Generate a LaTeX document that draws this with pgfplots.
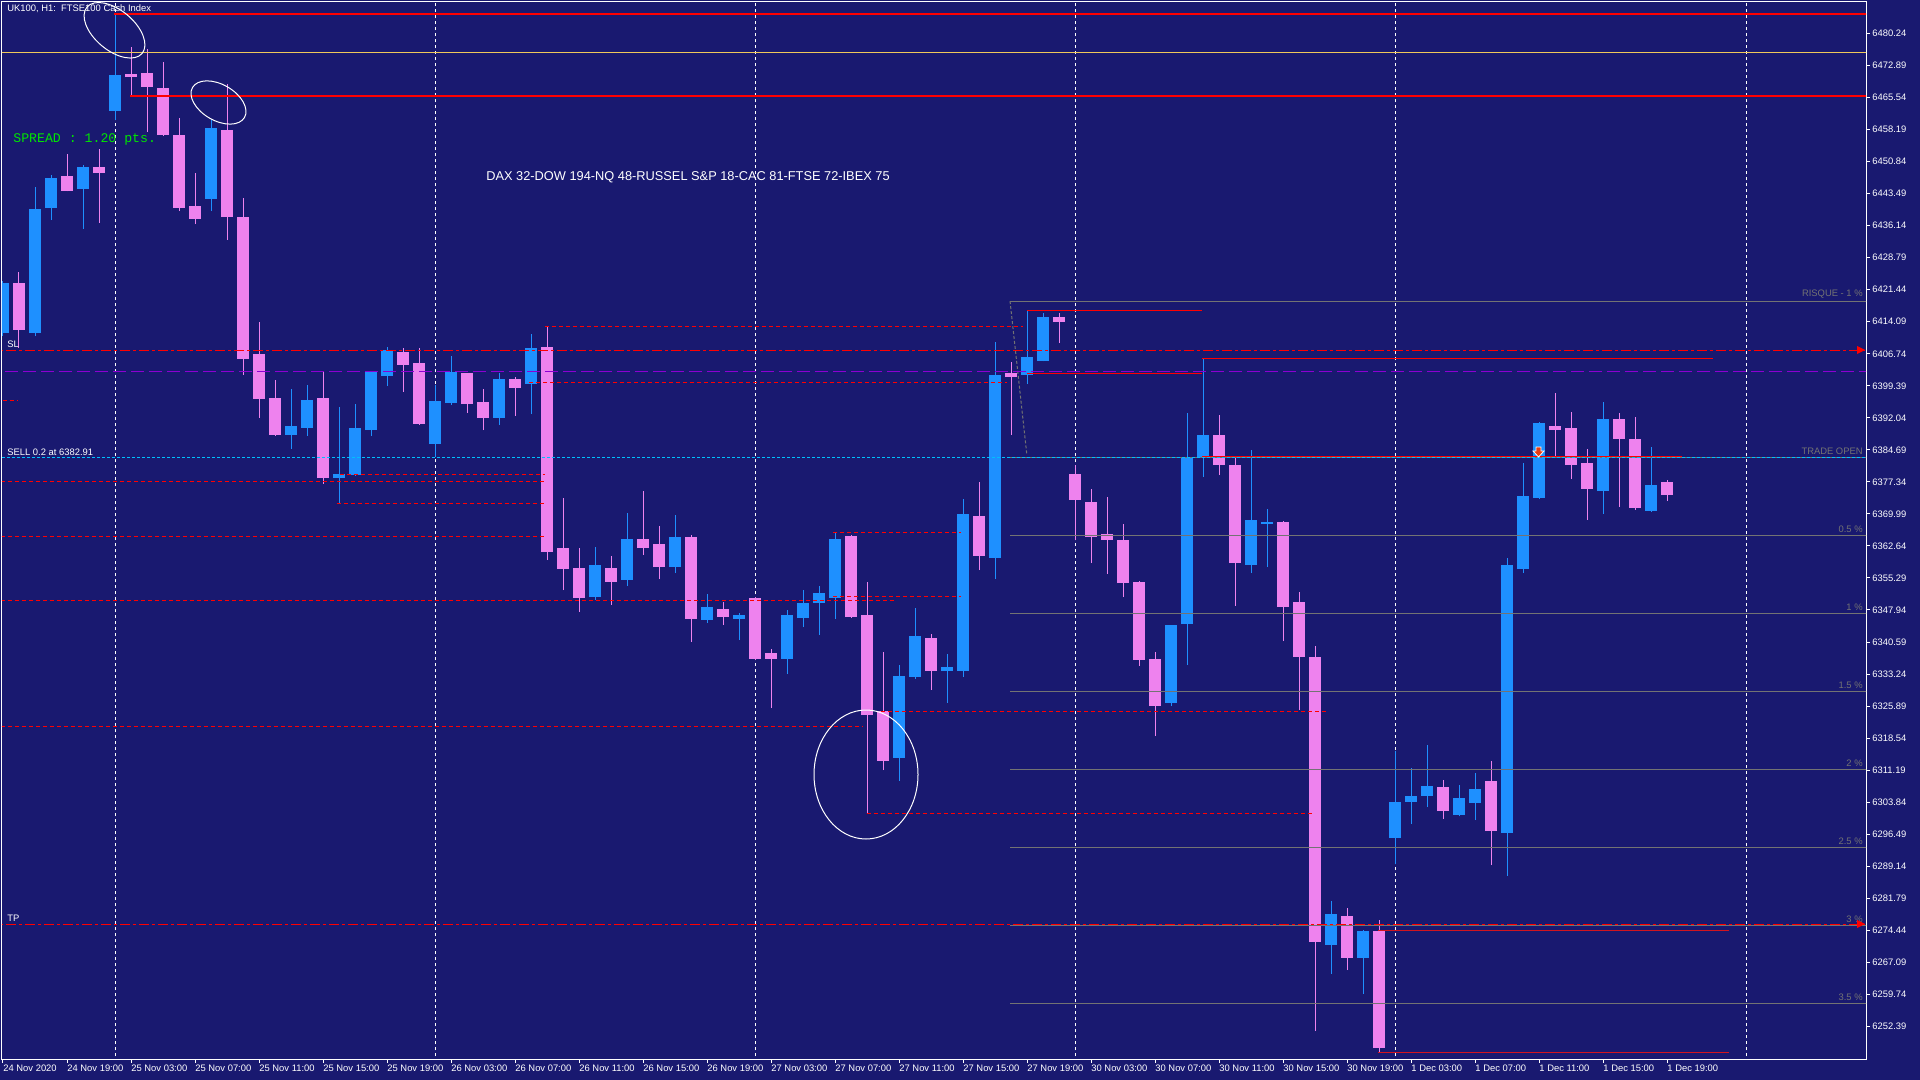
\documentclass[border=0pt]{standalone}
\usepackage{pgfplots}
\pgfplotsset{compat=1.18}
\usepackage{pgfplotstable}
\usepackage{fontspec}
\setmainfont{Liberation Sans}
\newfontfamily\monof{Liberation Mono}
\definecolor{bg}{RGB}{25,25,112}
\definecolor{bull}{RGB}{30,144,255}
\definecolor{bear}{RGB}{238,130,238}
\definecolor{lred}{RGB}{255,0,0}
\definecolor{dred}{RGB}{210,20,30}
\definecolor{purp}{RGB}{140,0,210}
\definecolor{cyanl}{RGB}{0,191,255}
\definecolor{grayl}{RGB}{115,115,115}
\definecolor{khak}{RGB}{240,200,90}
\definecolor{sprg}{RGB}{0,230,0}
\newcommand\mtf{\fontsize{4.7}{5.5}\selectfont}
\newcommand\daxf{\fontsize{6.4}{7.5}\selectfont}

\pgfplotstableread{
x o h l c
0 6411.5 6423.4 6410.8 6423.0
2 6411.5 6445.0 6410.8 6440.0
3 6440.3 6447.8 6437.4 6447.1
5 6444.6 6450.1 6435.4 6449.6
7 6462.5 6484.7 6460.4 6470.7
13 6442.3 6460.6 6439.5 6458.6
18 6388.1 6398.7 6384.9 6390.2
19 6389.7 6399.6 6387.9 6396.1
21 6378.2 6394.5 6372.5 6379.2
22 6378.9 6395.2 6378.8 6389.7
23 6389.2 6402.7 6387.9 6402.6
24 6401.6 6408.3 6399.3 6407.6
27 6386.0 6399.6 6383.1 6395.9
28 6395.4 6406.2 6395.0 6402.6
31 6392.0 6402.3 6390.4 6400.9
33 6399.8 6411.3 6392.9 6408.1
37 6350.9 6362.4 6350.2 6358.3
39 6354.8 6370.2 6353.4 6364.2
42 6357.8 6369.7 6356.4 6364.7
44 6345.6 6351.6 6344.9 6348.6
46 6345.9 6347.2 6341.1 6346.8
49 6336.7 6347.9 6333.2 6346.8
50 6346.1 6352.5 6344.0 6349.5
51 6349.5 6353.4 6342.2 6351.8
52 6350.7 6365.6 6345.9 6364.2
56 6314.0 6335.3 6308.7 6332.8
57 6332.6 6348.4 6332.1 6342.0
59 6333.9 6337.8 6326.6 6334.9
60 6333.9 6373.4 6332.6 6370.0
62 6359.9 6409.4 6355.0 6401.9
64 6401.9 6416.8 6399.8 6406.0
65 6405.1 6416.1 6405.0 6415.2
73 6326.6 6344.6 6325.9 6344.5
74 6344.7 6393.2 6335.3 6383.1
75 6383.1 6405.5 6378.5 6388.1
78 6358.3 6384.7 6356.4 6368.6
79 6367.7 6371.1 6357.8 6368.2
83 6271.1 6281.2 6264.4 6278.2
85 6268.1 6274.4 6259.8 6274.3
87 6295.6 6315.6 6289.6 6303.9
88 6303.9 6311.7 6298.8 6305.2
89 6305.2 6317.0 6302.7 6307.5
91 6300.9 6307.8 6300.6 6304.8
92 6303.6 6310.5 6299.7 6306.9
94 6296.8 6359.9 6286.9 6358.3
95 6357.3 6381.7 6356.4 6374.1
96 6373.6 6391.0 6373.4 6390.9
100 6375.2 6395.7 6370.0 6391.8
103 6370.7 6385.3 6370.4 6376.6
}\bulltab

\pgfplotstableread{
x o h l c
1 6423.0 6425.5 6408.1 6412.2
4 6447.5 6452.6 6444.0 6444.1
6 6449.6 6453.7 6436.8 6448.2
8 6470.9 6477.1 6465.9 6470.2
9 6471.2 6476.7 6457.6 6468.0
10 6467.7 6473.7 6456.8 6456.9
11 6456.9 6460.8 6439.5 6440.2
12 6440.7 6448.2 6436.5 6437.7
14 6458.1 6468.7 6432.9 6438.1
15 6438.1 6442.5 6401.9 6405.5
16 6406.7 6414.0 6392.0 6396.4
17 6396.6 6400.7 6387.9 6388.1
20 6396.6 6402.6 6376.9 6378.2
25 6407.2 6408.1 6398.0 6404.2
26 6404.6 6408.1 6390.4 6390.6
29 6402.3 6402.4 6393.2 6395.2
30 6395.7 6398.6 6389.2 6392.0
32 6400.9 6401.4 6392.5 6398.9
34 6408.3 6413.1 6359.4 6361.2
35 6362.2 6373.6 6352.5 6357.3
36 6357.6 6362.2 6347.5 6350.7
38 6357.6 6360.3 6349.1 6354.4
40 6364.2 6375.2 6360.6 6362.2
41 6363.1 6367.2 6355.0 6357.8
43 6364.7 6365.2 6340.6 6345.9
45 6348.2 6349.8 6344.5 6346.3
47 6350.7 6350.9 6336.5 6336.7
48 6338.1 6339.0 6325.4 6336.7
53 6364.9 6365.1 6346.1 6346.3
54 6346.8 6354.4 6301.3 6323.8
55 6324.8 6338.3 6311.2 6313.3
58 6341.5 6342.4 6329.6 6333.9
61 6369.5 6377.3 6357.1 6360.3
63 6402.3 6404.9 6388.1 6401.4
66 6415.2 6416.1 6409.2 6414.0
67 6379.2 6381.2 6364.0 6373.2
68 6372.7 6375.7 6358.7 6364.7
69 6365.4 6373.9 6356.2 6364.0
70 6364.0 6367.7 6350.9 6354.1
71 6354.4 6354.6 6335.1 6336.5
72 6336.7 6338.3 6319.0 6325.9
76 6388.1 6392.7 6378.9 6381.2
77 6381.2 6383.1 6348.9 6358.7
80 6368.1 6368.3 6340.8 6348.6
81 6349.8 6352.1 6325.0 6337.2
82 6337.2 6339.7 6251.3 6271.7
84 6277.7 6279.5 6265.3 6268.1
86 6274.3 6276.8 6246.3 6247.4
90 6307.3 6308.9 6300.0 6301.8
93 6308.7 6313.3 6289.4 6297.2
97 6390.2 6397.7 6383.3 6389.2
98 6389.7 6393.4 6378.0 6381.2
99 6381.7 6384.9 6368.6 6375.7
101 6391.8 6393.2 6371.6 6387.2
102 6387.2 6392.2 6370.9 6371.3
104 6377.3 6377.8 6373.0 6374.3
}\beartab

\begin{document}
\begin{tikzpicture}
\fill[bg] (0,0) rectangle (960pt,-540pt);
\path[use as bounding box] (0,0) rectangle (960pt,-540pt);
\begin{axis}[
  at={(1pt,-1pt)}, anchor=north west,
  scale only axis, width=932pt, height=528.5pt,
  xmin=-0.0625, xmax=116.4375,
  ymin=6244.89, ymax=6487.47,
  axis line style={white, line width=0.5pt},
  tick align=outside, major tick length=2pt,
  tick style={white, line width=0.5pt},
  xtick pos=bottom, ytick pos=right, yticklabel pos=right,
  xtick={0,4,...,104},
  xticklabels={24 Nov 2020,24 Nov 19:00,25 Nov 03:00,25 Nov 07:00,25 Nov 11:00,25 Nov 15:00,25 Nov 19:00,26 Nov 03:00,26 Nov 07:00,26 Nov 11:00,26 Nov 15:00,26 Nov 19:00,27 Nov 03:00,27 Nov 07:00,27 Nov 11:00,27 Nov 15:00,27 Nov 19:00,30 Nov 03:00,30 Nov 07:00,30 Nov 11:00,30 Nov 15:00,30 Nov 19:00,1 Dec 03:00,1 Dec 07:00,1 Dec 11:00,1 Dec 15:00,1 Dec 19:00},
  ytick={6252.39,6259.74,6267.09,6274.44,6281.79,6289.14,6296.49,6303.84,6311.19,6318.54,6325.89,6333.24,6340.59,6347.94,6355.29,6362.64,6369.99,6377.34,6384.69,6392.04,6399.39,6406.74,6414.09,6421.44,6428.79,6436.14,6443.49,6450.84,6458.19,6465.54,6472.89,6480.24},
  yticklabels={6252.39,6259.74,6267.09,6274.44,6281.79,6289.14,6296.49,6303.84,6311.19,6318.54,6325.89,6333.24,6340.59,6347.94,6355.29,6362.64,6369.99,6377.34,6384.69,6392.04,6399.39,6406.74,6414.09,6421.44,6428.79,6436.14,6443.49,6450.84,6458.19,6465.54,6472.89,6480.24},
  x tick label style={font=\mtf, text=white, anchor=north west, inner sep=1pt, xshift=-1pt},
  y tick label style={font=\mtf, text=white, anchor=west, inner sep=1pt},
  rdash/.style={draw=lred, line width=0.5pt, dash pattern=on 2pt off 1.5pt},
  sldash/.style={draw=lred, line width=0.7pt, dash pattern=on 5pt off 1.5pt on 1.5pt off 1.5pt},
  grayln/.style={draw=grayl, line width=0.5pt},
  sep/.style={draw=white, line width=0.5pt, dash pattern=on 1.5pt off 1.5pt},
]
% period separators
\addplot[sep] coordinates {(7,6240) (7,6490)};
\addplot[sep] coordinates {(27,6240) (27,6490)};
\addplot[sep] coordinates {(47,6240) (47,6490)};
\addplot[sep] coordinates {(67,6240) (67,6490)};
\addplot[sep] coordinates {(87,6240) (87,6490)};
\addplot[sep] coordinates {(108.94,6240) (108.94,6490)};
% candles
\addplot[draw=none, mark=none, error bars/.cd, y dir=plus, y explicit, error mark=none, error bar style={draw=bull, line width=0.5pt}] table[x=x, y=l, y error expr=\thisrow{h}-\thisrow{l}] {\bulltab};
\addplot[draw=none, mark=none, error bars/.cd, y dir=plus, y explicit, error mark=none, error bar style={draw=bull, line width=6pt}] table[x=x, y=o, y error expr=\thisrow{c}-\thisrow{o}] {\bulltab};
\addplot[draw=none, mark=none, error bars/.cd, y dir=plus, y explicit, error mark=none, error bar style={draw=bear, line width=0.5pt}] table[x=x, y=l, y error expr=\thisrow{h}-\thisrow{l}] {\beartab};
\addplot[draw=none, mark=none, error bars/.cd, y dir=plus, y explicit, error mark=none, error bar style={draw=bear, line width=6pt}] table[x=x, y=c, y error expr=\thisrow{o}-\thisrow{c}] {\beartab};
% gray percent levels
\addplot[grayln] coordinates {(62.94,6418.8) (118,6418.8)};
\addplot[grayln] coordinates {(62.94,6383.0) (118,6383.0)};
\addplot[grayln] coordinates {(62.94,6365.1) (118,6365.1)};
\addplot[grayln] coordinates {(62.94,6347.2) (118,6347.2)};
\addplot[grayln] coordinates {(62.94,6329.3) (118,6329.3)};
\addplot[grayln] coordinates {(62.94,6311.4) (118,6311.4)};
\addplot[grayln] coordinates {(62.94,6293.5) (118,6293.5)};
\addplot[grayln] coordinates {(62.94,6275.6) (118,6275.6)};
\addplot[grayln] coordinates {(62.94,6257.7) (118,6257.7)};
\addplot[draw=grayl, line width=0.5pt, dash pattern=on 1.5pt off 1pt] coordinates {(62.94,6418.8) (63.98,6383.9)};
% full-width objects
\addplot[khak, line width=0.6pt] coordinates {(-1,6475.8) (118,6475.8)};
\addplot[lred, line width=0.6pt] coordinates {(6.94,6484.7) (118,6484.7)};
\addplot[lred, line width=0.6pt] coordinates {(7.94,6465.9) (118,6465.9)};
\addplot[sldash] coordinates {(-1,6407.5) (118,6407.5)};
\addplot[draw=purp, line width=0.6pt, dash pattern=on 6.5pt off 2.5pt] coordinates {(-1,6402.7) (118,6402.7)};
\addplot[draw=cyanl, line width=0.5pt, dash pattern=on 1.5pt off 1pt] coordinates {(-1,6382.91) (118,6382.91)};
\addplot[sldash] coordinates {(-1,6275.8) (118,6275.8)};
% red dashed levels
\addplot[rdash] coordinates {(0,6396.1) (0.94,6396.1)};
\addplot[rdash] coordinates {(33.9,6413.0) (63.75,6413.0)};
\addplot[rdash] coordinates {(32.9,6400.2) (62.75,6400.2)};
\addplot[rdash] coordinates {(21.06,6379.1) (33.9,6379.1)};
\addplot[rdash] coordinates {(-1,6377.5) (33.9,6377.5)};
\addplot[rdash] coordinates {(20.9,6372.4) (33.9,6372.4)};
\addplot[rdash] coordinates {(-1,6364.85) (33.9,6364.85)};
\addplot[rdash] coordinates {(-1,6350.2) (55.75,6350.2)};
\addplot[rdash] coordinates {(51.9,6351.1) (59.9,6351.1)};
\addplot[rdash] coordinates {(51.9,6365.7) (59.9,6365.7)};
\addplot[rdash] coordinates {(-1,6321.2) (53.7,6321.2)};
\addplot[rdash] coordinates {(54.9,6324.7) (82.9,6324.7)};
\addplot[rdash] coordinates {(54,6301.3) (81.9,6301.3)};
% solid red levels
\addplot[lred, line width=0.6pt] coordinates {(64,6416.7) (74.94,6416.7)};
\addplot[lred, line width=0.6pt] coordinates {(64,6402.3) (74.94,6402.3)};
\addplot[lred, line width=0.6pt] coordinates {(74.94,6405.7) (106.9,6405.7)};
\addplot[lred, line width=0.6pt] coordinates {(74.94,6383.2) (104.94,6383.2)};
\addplot[dred, line width=0.5pt] coordinates {(85.94,6274.3) (107.9,6274.3)};
\addplot[dred, line width=0.6pt] coordinates {(85.94,6246.3) (107.9,6246.3)};
\end{axis}
\begin{scope}[x=0.5pt,y=-0.5pt]
\node[anchor=west, text=white, font=\mtf, inner sep=0] at (7,9) {UK100, H1:\ \ FTSE100 Cash Index};
\node[anchor=west, text=sprg, font=\monof\fontsize{6.6}{7.5}\selectfont, inner sep=0] at (13,139) {SPREAD : 1.20 pts.};
\node[anchor=center, text=white, font=\daxf, inner sep=0] at (688,177.5) {DAX 32-DOW 194-NQ 48-RUSSEL S\&P 18-CAC 81-FTSE 72-IBEX 75};
\node[anchor=west, text=white, font=\mtf, inner sep=0] at (7,344) {SL};
\node[anchor=west, text=white, font=\mtf, inner sep=0] at (7,452) {SELL 0.2 at 6382.91};
\node[anchor=west, text=white, font=\mtf, inner sep=0] at (7,918) {TP};
\foreach \yy/\tt in {294/RISQUE - 1 \%, 451/TRADE OPEN, 529/0.5 \%, 607/1 \%, 685/1.5 \%, 763/2 \%, 841/2.5 \%, 919/3 \%, 997/3.5 \%}
  \node[anchor=east, text=grayl, font=\mtf, inner sep=0] at (1863,\yy) {\tt};
\draw[white, line width=0.5pt, rotate around={-40:(114.5,30.3)}] (114.5,30.3) ellipse [x radius=36, y radius=20];
\draw[white, line width=0.5pt, rotate around={-30:(218.5,102.5)}] (218.5,102.5) ellipse [x radius=30, y radius=18];
\draw[white, line width=0.5pt] (866,774.5) ellipse [x radius=52, y radius=64.5];
\fill[lred] (1857,346) -- (1865,350) -- (1857,354) -- cycle;
\fill[lred] (1857,920) -- (1865,924) -- (1857,928) -- cycle;
\filldraw[draw=white, fill={rgb,255:red,230;green,60;blue,20}, line width=0.4pt] (1536,447) -- (1541,447) -- (1541,451) -- (1544,451) -- (1538.5,457) -- (1533,451) -- (1536,451) -- cycle;
\end{scope}
\end{tikzpicture}
\end{document}
